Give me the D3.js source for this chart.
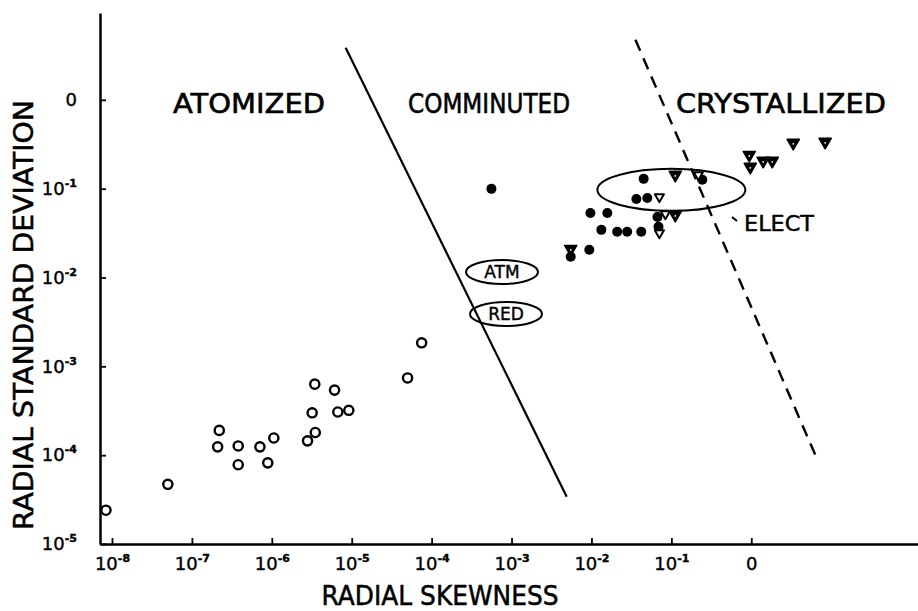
<!DOCTYPE html>
<html>
<head>
<meta charset="utf-8">
<script src="https://cdn.jsdelivr.net/npm/d3@7"></script>
<style>
body { margin: 0; background: #fff; }
text { font-family: "DejaVu Sans", sans-serif; fill: #000; }
</style>
</head>
<body>
<div class="canvas"></div>
<script>
const width = 918;
const height = 611;

// ticks (log axes, 10^0 is written as "0")
const xTickVals = [1e-8, 1e-7, 1e-6, 1e-5, 1e-4, 1e-3, 1e-2, 1e-1, 1];
const xTickLabels = [["10", "-8"], ["10", "-7"], ["10", "-6"], ["10", "-5"], ["10", "-4"], ["10", "-3"], ["10", "-2"], ["10", "-1"], ["0", ""]];
const yTickVals = [1e-5, 1e-4, 1e-3, 1e-2, 1e-1, 1];
const yTickLabels = [["10", "-5"], ["10", "-4"], ["10", "-3"], ["10", "-2"], ["10", "-1"], ["0", ""]];

// atomized powders (open circles)
const atomX = [8.4e-9, 5.0e-8, 2.2e-7, 2.1e-7, 3.8e-7, 3.8e-7, 7.1e-7, 1.06e-6, 8.9e-7, 3.45e-6, 6.1e-6, 3.2e-6, 6.7e-6, 9.2e-6, 3.5e-6, 2.8e-6, 5.0e-5, 7.5e-5];
const atomY = [2.4e-5, 4.7e-5, 1.9e-4, 1.24e-4, 1.27e-4, 7.8e-5, 1.24e-4, 1.56e-4, 8.2e-5, 6.3e-4, 5.4e-4, 3.0e-4, 3.06e-4, 3.2e-4, 1.8e-4, 1.45e-4, 7.4e-4, 1.84e-3];

// comminuted powders (filled circles)
const commX = [5.6e-4, 5.5e-3, 9.4e-3, 9.7e-3, 1.58e-2, 1.33e-2, 2.1e-2, 2.8e-2, 4.2e-2, 3.65e-2, 5.0e-2, 4.5e-2, 6.7e-2, 6.9e-2, 0.244];
const commY = [0.0995, 0.0171, 0.0205, 0.0533, 0.0533, 0.0344, 0.0327, 0.0327, 0.0327, 0.0767, 0.0787, 0.129, 0.0481, 0.0372, 0.126];

// crystallized powders (filled triangles)
const crysX = [5.5e-3, 0.112, 0.112, 0.944, 0.972, 1.41, 1.83, 3.35, 8.4];
const crysY = [0.0210, 0.143, 0.0507, 0.240, 0.176, 0.206, 0.206, 0.328, 0.337];

// electrolytic (open triangles)
const elecX = [0.0708, 0.2175, 0.0841, 0.0708];
const elecY = [0.0809, 0.143, 0.052, 0.0318];

// region boundaries
const bound1X = [8.4e-6, 4.9e-3];
const bound1Y = [3.85, 3.4e-5];
const bound2X = [0.0355, 6.9];
const bound2Y = [4.74, 8.4e-5];

const svg = d3.select(".canvas")
    .append("svg")
    .attr("width", width)
    .attr("height", height)
    .style("display", "block");

const x = d3.scaleLog()
    .domain([7.08e-9, 122])
    .range([100, 918]);

const y = d3.scaleLog()
    .domain([1e-5, 9.5])
    .range([544, 13]);

// axes
const xAxis = svg.append("g")
    .attr("transform", "translate(0,544)")
    .call(d3.axisBottom(x).tickValues(xTickVals).tickSizeInner(-6).tickSizeOuter(0).tickPadding(13));

const yAxis = svg.append("g")
    .attr("transform", "translate(100,0)")
    .call(d3.axisLeft(y).tickValues(yTickVals).tickSizeInner(-6).tickSizeOuter(0).tickPadding(23));

[xAxis, yAxis].forEach(g => {
    g.select(".domain").attr("stroke-width", 2.5);
    g.selectAll(".tick line").attr("stroke-width", 1.8);
    g.attr("font-family", null).attr("font-size", null);
});

function supLabel(labels) {
    return function(d, i) {
        const t = d3.select(this);
        t.text(null).attr("font-size", 18).attr("stroke", "#000").attr("stroke-width", 0.4);
        t.append("tspan").text(labels[i][0]);
        if (labels[i][1]) {
            t.append("tspan").attr("dy", -8).attr("font-size", 11).attr("font-weight", "bold").text(labels[i][1]);
        }
    };
}
xAxis.selectAll(".tick text").each(supLabel(xTickLabels));
yAxis.selectAll(".tick text").each(supLabel(yTickLabels));

// boundary lines
const line = d3.line().x(d => x(d[0])).y(d => y(d[1]));
svg.append("path")
    .attr("d", line(d3.zip(bound1X, bound1Y)))
    .attr("stroke", "#000").attr("stroke-width", 2.2).attr("fill", "none");
svg.append("path")
    .attr("d", line(d3.zip(bound2X, bound2Y)))
    .attr("stroke", "#000").attr("stroke-width", 2.4).attr("fill", "none")
    .attr("stroke-dasharray", "12,8");

// ellipse around electrolytic powders
svg.append("ellipse")
    .attr("cx", x(0.1)).attr("cy", y(0.097))
    .attr("rx", 74).attr("ry", 21)
    .attr("fill", "none").attr("stroke", "#000").attr("stroke-width", 2);

// points
svg.append("g").selectAll("circle")
    .data(d3.zip(atomX, atomY))
    .join("circle")
    .attr("cx", d => x(d[0])).attr("cy", d => y(d[1]))
    .attr("r", 4.6)
    .attr("fill", "#fff").attr("stroke", "#000").attr("stroke-width", 2.4);

svg.append("g").selectAll("circle")
    .data(d3.zip(commX, commY))
    .join("circle")
    .attr("cx", d => x(d[0])).attr("cy", d => y(d[1]))
    .attr("r", 5)
    .attr("fill", "#000");

const tri = d3.symbol().type(d3.symbolTriangle).size(64);
const crys = svg.append("g").selectAll("g")
    .data(d3.zip(crysX, crysY))
    .join("g")
    .attr("transform", d => `translate(${x(d[0])},${y(d[1])}) rotate(180)`);
crys.append("path").attr("d", tri).attr("fill", "#000").attr("stroke", "#000").attr("stroke-width", 1.5).attr("stroke-linejoin", "round");
crys.append("circle").attr("cy", -1).attr("r", 0.9).attr("fill", "#fff");

svg.append("g").selectAll("path")
    .data(d3.zip(elecX, elecY))
    .join("path")
    .attr("transform", d => `translate(${x(d[0])},${y(d[1])}) rotate(180)`)
    .attr("d", d3.symbol().type(d3.symbolTriangle).size(36))
    .attr("fill", "#fff").attr("stroke", "#000").attr("stroke-width", 2).attr("stroke-linejoin", "round");

// region labels
const regions = [
    { text: "ATOMIZED", x: 173, w: 152 },
    { text: "COMMINUTED", x: 408, w: 162 },
    { text: "CRYSTALLIZED", x: 676, w: 210 }
];
svg.selectAll(".region")
    .data(regions)
    .join("text")
    .attr("class", "region")
    .attr("x", d => d.x).attr("y", 113)
    .attr("font-size", 27)
    .attr("stroke", "#000").attr("stroke-width", 0.6)
    .attr("textLength", d => d.w)
    .attr("lengthAdjust", "spacingAndGlyphs")
    .text(d => d.text);

// ELECT annotation
svg.append("line")
    .attr("x1", 732).attr("y1", 217).attr("x2", 737).attr("y2", 221)
    .attr("stroke", "#000").attr("stroke-width", 2);
svg.append("text")
    .attr("x", 744).attr("y", 231)
    .attr("font-size", 22)
    .attr("stroke", "#000").attr("stroke-width", 0.5)
    .attr("textLength", 70).attr("lengthAdjust", "spacingAndGlyphs")
    .text("ELECT");

// ATM / RED tags
const tags = [{ text: "ATM", cx: 502, cy: 272 }, { text: "RED", cx: 506, cy: 314 }];
const tag = svg.selectAll(".tag").data(tags).join("g").attr("class", "tag");
tag.append("ellipse")
    .attr("cx", d => d.cx).attr("cy", d => d.cy)
    .attr("rx", 36).attr("ry", 12)
    .attr("fill", "none").attr("stroke", "#000").attr("stroke-width", 2);
tag.append("text")
    .attr("x", d => d.cx).attr("y", d => d.cy + 6)
    .attr("text-anchor", "middle")
    .attr("font-size", 17)
    .attr("stroke", "#000").attr("stroke-width", 0.4)
    .text(d => d.text);

// axis titles
svg.append("text")
    .attr("x", 440).attr("y", 605)
    .attr("text-anchor", "middle")
    .attr("font-size", 26)
    .attr("stroke", "#000").attr("stroke-width", 0.5)
    .attr("textLength", 237).attr("lengthAdjust", "spacingAndGlyphs")
    .text("RADIAL  SKEWNESS");

svg.append("text")
    .attr("transform", "translate(33,315) rotate(-90)")
    .attr("text-anchor", "middle")
    .attr("font-size", 27)
    .attr("stroke", "#000").attr("stroke-width", 0.5)
    .attr("textLength", 430).attr("lengthAdjust", "spacingAndGlyphs")
    .text("RADIAL  STANDARD  DEVIATION");
</script>
</body>
</html>
